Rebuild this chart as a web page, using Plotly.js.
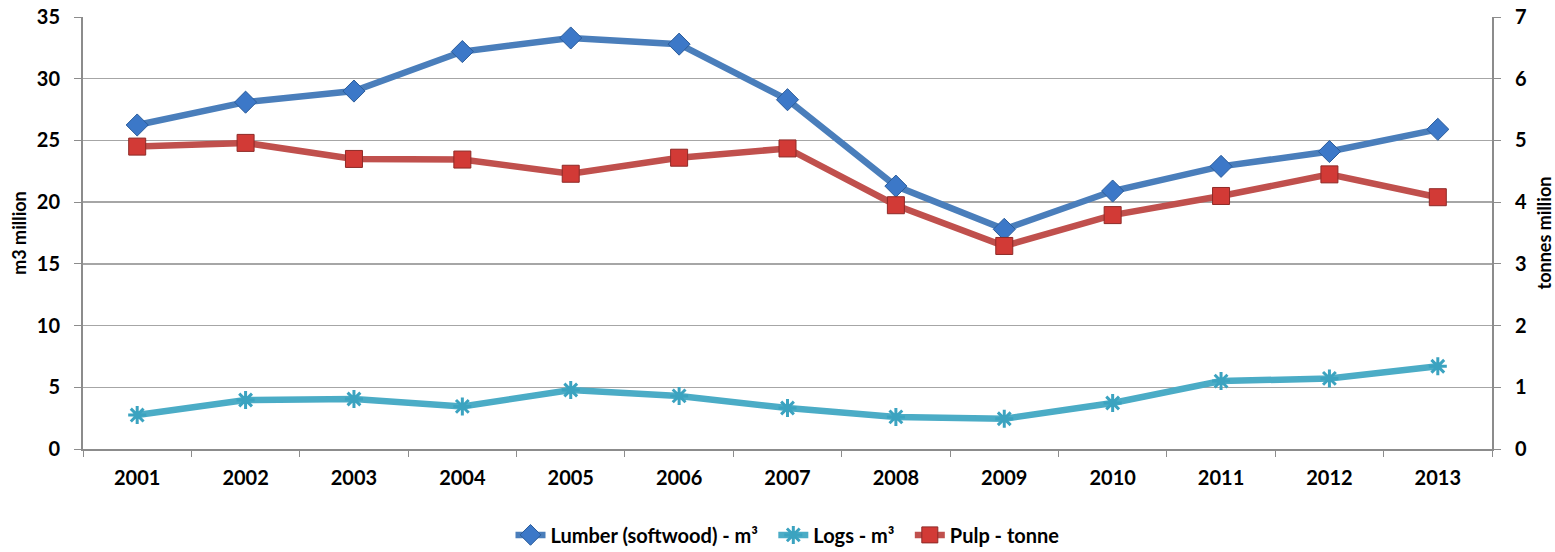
<!DOCTYPE html>
<html>
<head>
<meta charset="utf-8">
<script src="https://cdn.plot.ly/plotly-3.0.1.min.js"></script>
<style>html,body{margin:0;padding:0;background:#fff;}#chart{width:1555px;height:552px;}</style>
</head>
<body>
<div id="chart"></div>
<script>
const years = ["2001","2002","2003","2004","2005","2006","2007","2008","2009","2010","2011","2012","2013"];
const lumber = [26.25, 28.1, 29.0, 32.2, 33.3, 32.8, 28.3, 21.3, 17.8, 20.9, 22.9, 24.1, 25.9];
const logs = [2.75, 3.97, 4.05, 3.45, 4.78, 4.3, 3.32, 2.6, 2.45, 3.73, 5.5, 5.72, 6.7];
const pulp = [4.9, 4.96, 4.7, 4.69, 4.46, 4.72, 4.87, 3.95, 3.29, 3.79, 4.1, 4.45, 4.08];
const leftTicks = [0, 5, 10, 15, 20, 25, 30, 35];
const rightTicks = [0, 1, 2, 3, 4, 5, 6, 7];

const FONT = "Lato, 'Open Sans', sans-serif";
const tf = {family: FONT, size: 20, color: "#000"};

const traces = [
  {
    x: years, y: lumber, name: "<b>Lumber (softwood) - m³</b>  ", type: "scatter", mode: "lines+markers",
    line: {color: "#4A7EBB", width: 6.5},
    marker: {symbol: "diamond", size: 17, color: "#3C78C8", line: {color: "#2B5C9A", width: 1}}
  },
  {
    x: years, y: logs, name: "<b>Logs - m³</b>  ", type: "scatter", mode: "lines+markers",
    line: {color: "#4BACC6", width: 6.5},
    marker: {symbol: "asterisk-open", size: 15, color: "#3BA3C0", line: {color: "#3BA3C0", width: 3}}
  },
  {
    x: years, y: pulp, name: "<b>Pulp - tonne</b>", type: "scatter", mode: "lines+markers", yaxis: "y2",
    line: {color: "#C0504D", width: 6.5},
    marker: {symbol: "square", size: 17, color: "#D23A36", line: {color: "#8E2A27", width: 1}}
  }
];

const layout = {
  width: 1555, height: 552,
  margin: {l: 83, r: 63, t: 17, b: 103, autoexpand: false},
  paper_bgcolor: "#fff", plot_bgcolor: "#fff",
  font: {family: FONT, size: 20, color: "#000"},
  showlegend: true,
  legend: {orientation: "h", x: 0.5, xanchor: "center", xref: "paper",
           yref: "container", y: 0.031, yanchor: "middle",
           font: {family: FONT, size: 20, color: "#000"}, traceorder: "normal"},
  xaxis: {
    type: "category", range: [-0.5, 12.5], showgrid: false,
    showline: true, linecolor: "#8c8c8c", linewidth: 2,
    ticks: "outside", ticklen: 6, tickcolor: "#8c8c8c", tickwidth: 1, tickson: "boundaries",
    tickvals: years, ticktext: years.map(y => "<b>" + y + "</b>"),
    ticklabelstandoff: 10,
    tickfont: tf
  },
  yaxis: {
    range: [0, 35], tickvals: leftTicks, ticktext: leftTicks.map(v => "<b>" + v + "</b>"),
    showgrid: true, gridcolor: "#a6a6a6", gridwidth: 1.5,
    showline: true, linecolor: "#8c8c8c", linewidth: 2, zeroline: false,
    ticks: "outside", ticklen: 7, tickcolor: "#8c8c8c",
    ticklabelstandoff: 10,
    tickfont: tf,
    title: {text: "<b>m3 million</b>", font: {family: FONT, size: 18, color: "#000"}, standoff: 5}
  },
  yaxis2: {
    overlaying: "y", side: "right", range: [0, 7], tickvals: rightTicks, ticktext: rightTicks.map(v => "<b>" + v + "</b>"),
    showgrid: false, showline: true, linecolor: "#8c8c8c", linewidth: 2, zeroline: false,
    ticks: "outside", ticklen: 7, tickcolor: "#8c8c8c",
    ticklabelstandoff: 10,
    tickfont: tf,
    title: {text: "<b>tonnes million</b>", font: {family: FONT, size: 18, color: "#000"}, standoff: 12}
  }
};

Plotly.newPlot("chart", traces, layout, {displayModeBar: false, staticPlot: true});
</script>
</body>
</html>
